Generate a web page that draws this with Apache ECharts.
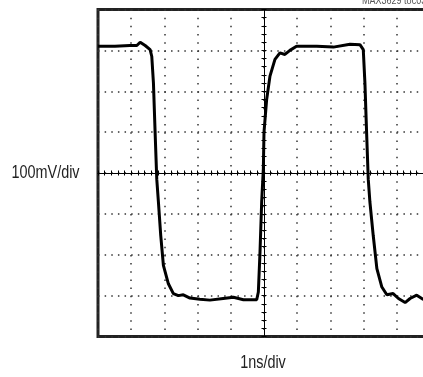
<!DOCTYPE html>
<html>
<head>
<meta charset="utf-8">
<script src="https://cdn.jsdelivr.net/npm/echarts@6/dist/echarts.min.js"></script>
<style>
  html, body { margin: 0; padding: 0; background: #fff; }
  #chart { width: 423px; height: 377px; }
</style>
</head>
<body>
<div id="chart"></div>
<script>
// time relative to screen centre (ns), 1 ns/div
const timeNs = [
  -5.00, -4.49, -4.04, -3.83, -3.73, -3.58, -3.43, -3.38, -3.33, -3.28,
  -3.23, -3.18, -3.11, -3.03, -2.88, -2.73, -2.58, -2.43, -2.23, -1.93,
  -1.63, -1.23, -0.92, -0.62, -0.22, -0.17, -0.12, -0.07, -0.02, 0.00,
  0.08, 0.18, 0.33, 0.48, 0.63, 0.78, 0.98, 1.59, 2.09, 2.59,
  2.89, 2.99, 3.04, 3.09, 3.14, 3.19, 3.29, 3.40, 3.55, 3.70,
  3.89, 4.05, 4.25, 4.40, 4.60, 4.79, 4.95
];
// output level (mV), 100 mV/div
const levelMv = [
  310, 310, 312, 312, 320, 312, 302, 285, 220, 100,
  -15, -71, -153, -226, -271, -295, -300, -298, -306, -309,
  -311, -307, -304, -310, -310, -291, -193, -71, 10, 100,
  180, 237, 278, 294, 290, 300, 310, 310, 308, 315,
  314, 302, 220, 100, -15, -71, -153, -234, -279, -298,
  -295, -307, -317, -307, -299, -309, -305
];
const xLabel = "1ns/div";
const yLabel = "100mV/div";
const tocLabel = "MAX3629 toc03";

const trace = timeNs.map((t, i) => [t, levelMv[i]]);

var dom = document.getElementById('chart');
var myChart = echarts.init(dom, null, { renderer: 'canvas' });

const narrow = (size) => size + 'px "Liberation Sans", Arial, sans-serif';
const dots = (gap) => ({ color: '#333', width: 1.5, type: [1.5, gap] });
const centreAxis = {
  axisLine: { show: true, onZero: true, lineStyle: { color: '#000', width: 1 } },
  axisTick: { show: true, length: 2.5, lineStyle: { color: '#000', width: 1 } },
  minorTick: { show: true, splitNumber: 5, length: 2.5, lineStyle: { color: '#000', width: 1 } },
  axisLabel: { show: false }
};

var option = {
  animation: false,
  grid: {
    left: 98, top: 9.5, right: -7, bottom: 40.5,
    outerBoundsMode: 'none',
    show: true, borderColor: '#222', borderWidth: 3, backgroundColor: 'transparent'
  },
  xAxis: [
    Object.assign({ type: 'value', min: -5, max: 5, interval: 1, position: 'bottom',
      splitLine: { show: true, lineStyle: dots(6.68) } }, centreAxis),
    Object.assign({ type: 'value', min: -5, max: 5, interval: 1, position: 'top',
      splitLine: { show: false } }, centreAxis)
  ],
  yAxis: [
    Object.assign({ type: 'value', min: -400, max: 400, interval: 100, position: 'left',
      splitLine: { show: true, lineStyle: dots(5.14) } }, centreAxis),
    Object.assign({ type: 'value', min: -400, max: 400, interval: 100, position: 'right',
      splitLine: { show: false } }, centreAxis)
  ],
  graphic: [
    { type: 'text', x: 11.5, y: 173, scaleX: 0.8,
      style: { text: yLabel, fill: '#222', font: narrow(18), verticalAlign: 'middle' } },
    { type: 'text', x: 263, y: 363, scaleX: 0.8,
      style: { text: xLabel, fill: '#222', font: narrow(18), align: 'center', verticalAlign: 'middle' } },
    { type: 'text', x: 362, y: 1, scaleX: 0.82,
      style: { text: tocLabel, fill: '#555', font: narrow(11), verticalAlign: 'middle' } }
  ],
  series: [
    {
      type: 'line',
      data: trace,
      showSymbol: false,
      lineStyle: { color: '#000', width: 3 },
      z: 5
    }
  ]
};

myChart.setOption(option);
</script>
</body>
</html>
